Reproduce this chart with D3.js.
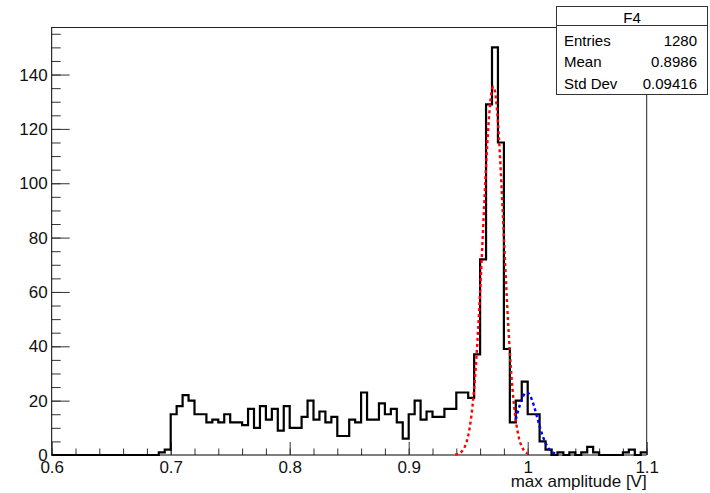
<!DOCTYPE html>
<html>
<head>
<meta charset="utf-8">
<script src="https://cdn.jsdelivr.net/npm/d3@7"></script>
<style>
  html, body { margin: 0; padding: 0; background: #fff; }
  svg { display: block; font-family: "Liberation Sans", Arial, sans-serif; }
</style>
</head>
<body>
<svg id="chart" width="710" height="493"></svg>
<script>
// ---- data ----
const xRange = [0.6, 1.1];
const binWidth = 0.005;
const binCounts = [
  0,0,0,0,0,0,0,0,0,0,
  0,0,0,0,0,0,0,0,1,2,
  15,18,22,20,15,15,12,13,12,15,
  12,12,11,17,10,18,13,17,9,18,
  10,10,14,20,13,16,12,14,7,7,
  13,12,23,13,13,19,15,17,12,6,
  15,20,13,16,14,14,17,17,23,23,
  21,37,72,129,150,115,39,12,20,27,
  15,15,5,2,0,1,0,1,0,1,
  3,1,0,0,0,0,1,2,0,1
];
const yMax = 157.5;
const xTickValues = [0.6, 0.7, 0.8, 0.9, 1.0, 1.1];
const xTickLabels = ["0.6", "0.7", "0.8", "0.9", "1", "1.1"];
const yTickValues = [0, 20, 40, 60, 80, 100, 120, 140];
const yTickLabels = ["0", "20", "40", "60", "80", "100", "120", "140"];
// Gaussian fit parameters [amplitude, mean, sigma] and fit ranges
const redFit = [135.5, 0.9711, 0.0087];
const redRange = [0.939, 1.0];
const blueFit = [23, 0.9992, 0.0087];
const blueRange = [0.99, 1.025];
const statsTitle = "F4";
const statsNames = ["Entries", "Mean", "Std Dev"];
const statsValues = ["1280", "0.8986", "0.09416"];
const xTitle = "max amplitude [V]";

// ---- layout ----
const svg = d3.select("#chart");
const L = 51.7, R = 646.7, T = 27, B = 455;
const x = d3.scaleLinear().domain(xRange).range([L, R]);
const y = d3.scaleLinear().domain([0, yMax]).range([B, T]);

svg.append("rect").attr("width", 710).attr("height", 493).attr("fill", "#fff");

// frame (top & right)
svg.append("path")
  .attr("d", `M${L},${T + 0.5}H${R}V${B}`)
  .attr("fill", "none").attr("stroke", "#222").attr("stroke-width", 1);

// y axis
const yMinor = d3.range(0, yMax, 5);
const yMinorAxis = svg.append("g").attr("transform", `translate(${L},0)`)
  .call(d3.axisLeft(y).tickValues(yMinor).tickSize(-9).tickFormat(""));
yMinorAxis.select(".domain").remove();
const yAxis = svg.append("g").attr("transform", `translate(${L},0)`)
  .call(d3.axisLeft(y).tickValues(yTickValues).tickSize(-18).tickPadding(4)
    .tickFormat((d, i) => yTickLabels[i]));
yAxis.select(".domain").attr("d", `M0,${T}V${B}`).attr("stroke", "#000");

// x axis
const xMinor = d3.range(0, 26).map(i => 0.6 + i * 0.02);
const xMinorAxis = svg.append("g").attr("transform", `translate(0,${B})`)
  .call(d3.axisBottom(x).tickValues(xMinor).tickSize(-6.5).tickFormat(""));
xMinorAxis.select(".domain").remove();
const xAxis = svg.append("g").attr("transform", `translate(0,${B})`)
  .call(d3.axisBottom(x).tickValues(xTickValues).tickSize(-13).tickPadding(6)
    .tickFormat((d, i) => xTickLabels[i]));
xAxis.select(".domain").attr("d", `M${L},0H${R}`).attr("stroke", "#000");

svg.selectAll(".tick line").attr("stroke", "#333");
svg.selectAll(".tick text").attr("font-size", 17).attr("fill", "#111")
  .attr("font-family", "Liberation Sans, Arial, sans-serif");

// histogram step outline
const edges = binCounts.map((c, i) => xRange[0] + i * binWidth);
let d = `M${x(edges[0])},${y(binCounts[0])}`;
binCounts.forEach((c, i) => {
  const xe = x(xRange[0] + (i + 1) * binWidth);
  d += `H${xe}`;
  if (i + 1 < binCounts.length) d += `V${y(binCounts[i + 1])}`;
});
svg.append("path").attr("d", d).attr("fill", "none")
  .attr("stroke", "#000").attr("stroke-width", 2.2)
  .attr("stroke-linejoin", "miter");

// fit curves
function gaussPts(p, range) {
  const n = 120;
  return d3.range(n + 1).map(i => {
    const v = range[0] + (range[1] - range[0]) * i / n;
    return [v, p[0] * Math.exp(-0.5 * Math.pow((v - p[1]) / p[2], 2))];
  });
}
const line = d3.line().x(p => x(p[0])).y(p => y(p[1]));
svg.append("path").attr("d", line(gaussPts(redFit, redRange)))
  .attr("fill", "none").attr("stroke", "#ff0000").attr("stroke-width", 2.4)
  .attr("stroke-dasharray", "3,3");
svg.append("path").attr("d", line(gaussPts(blueFit, blueRange)))
  .attr("fill", "none").attr("stroke", "#0000ff").attr("stroke-width", 2.4)
  .attr("stroke-dasharray", "3,3");

// x title
svg.append("text").attr("x", R).attr("y", 487).attr("text-anchor", "end")
  .attr("font-size", 17).attr("fill", "#111").text(xTitle);

// stats box
const sb = { x: 556.5, y: 6.5, w: 151, h: 88, head: 25 };
const g = svg.append("g");
g.append("rect").attr("x", sb.x).attr("y", sb.y).attr("width", sb.w).attr("height", sb.h)
  .attr("fill", "#fff").attr("stroke", "#333").attr("stroke-width", 1);
g.append("line").attr("x1", sb.x).attr("x2", sb.x + sb.w).attr("y1", sb.head + 0.5).attr("y2", sb.head + 0.5)
  .attr("stroke", "#333");
g.append("text").attr("x", sb.x + sb.w / 2).attr("y", 23).attr("text-anchor", "middle")
  .attr("font-size", 15).text(statsTitle);
statsNames.forEach((n, i) => {
  const yy = 46 + i * 21.3;
  g.append("text").attr("x", 564).attr("y", yy).attr("font-size", 15).text(n);
  g.append("text").attr("x", 697).attr("y", yy).attr("text-anchor", "end")
    .attr("font-size", 15).text(statsValues[i]);
});
</script>
</body>
</html>
